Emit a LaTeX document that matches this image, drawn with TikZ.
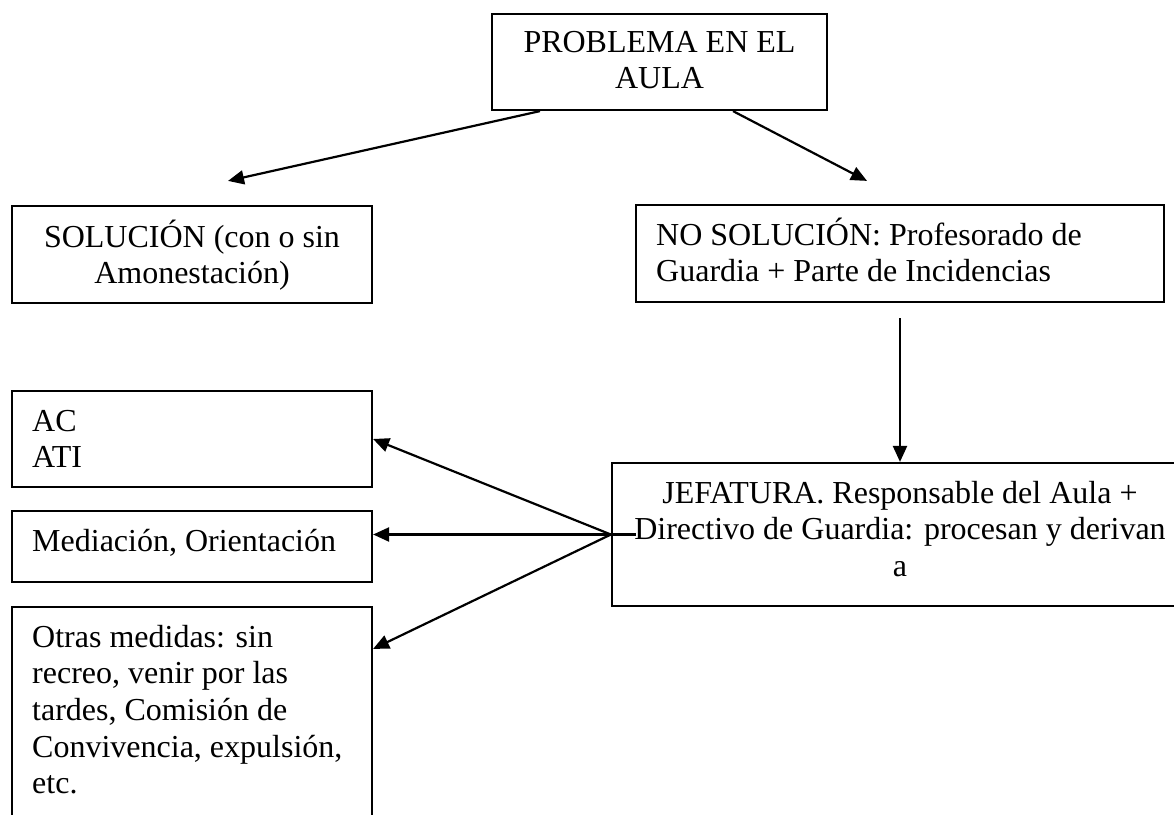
\documentclass[tikz,border=0pt]{standalone}
\usepackage{fontspec}
\setmainfont{Liberation Serif}
\usetikzlibrary{arrows.meta}
\begin{document}
\begin{tikzpicture}[x=1pt,y=-1pt,
  box/.style={draw=black, line width=2.2pt, rectangle, inner sep=0pt},
  txt/.style={inner sep=0pt, font=\fontsize{32}{36.7}\selectfont},
  arr/.style={line width=2.2pt, -{Triangle[length=16pt,width=14pt]}}]
\useasboundingbox (0,0) rectangle (1174,814);
% boxes
\node[box, minimum width=335pt, minimum height=96pt] (top) at (659.5,62) {};
\node[box, minimum width=360pt, minimum height=97pt] (sol) at (192,254.5) {};
\node[box, minimum width=528pt, minimum height=97pt] (nosol) at (900,253.5) {};
\node[box, minimum width=360pt, minimum height=96pt] (ac) at (192,439) {};
\node[box, minimum width=360pt, minimum height=71pt] (med) at (192,546.5) {};
\node[box, minimum width=360pt, minimum height=233pt] (otras) at (192,723.5) {};
\node[box, minimum width=576pt, minimum height=143pt] (jef) at (900,534.5) {};
% texts (base anchor = baseline of the last line)
\node[txt, anchor=base, align=center] (ttop) at (659.5,88.7) {PROBLEMA EN EL\\AULA};
\node[txt, anchor=base, align=center] (tsol) at (192,283.7) {SOLUCIÓN (con o sin\\Amonestación)};
\node[txt, anchor=base west, align=left] (tnosol) at (656,281.7) {NO SOLUCIÓN: Profesorado de\\Guardia + Parte de Incidencias};
\node[txt, anchor=base west, align=left] (tac) at (32,467.7) {AC\\ATI};
\node[txt, anchor=base west, align=left] (tmed) at (32,551) {Mediación, Orientación};
\node[txt, anchor=base west, align=left] (totras) at (32,793.8) {Otras medidas: sin\\recreo, venir por las\\tardes, Comisión de\\Convivencia, expulsión,\\etc.};
\node[txt, anchor=base, align=center] (tjef) at (900,576.4) {JEFATURA. Responsable del Aula +\\Directivo de Guardia: procesan y derivan\\a};
% connectors
\draw[arr] ([xshift=-119.5pt]top.south) -- ([xshift=36pt,yshift=24pt]sol.north);
\draw[arr] ([xshift=73.5pt]top.south) -- ([xshift=-33pt,yshift=23pt]nosol.north);
\draw[arr] ([yshift=-15pt]nosol.south) -- (jef.north);
\draw[arr] (jef.west) -- (ac.east);
\draw[arr] ([xshift=25pt]jef.west) -- (jef.west -| med.east);
\draw[arr] (jef.west) -- ([yshift=-43pt]otras.north east);
\end{tikzpicture}
\end{document}
